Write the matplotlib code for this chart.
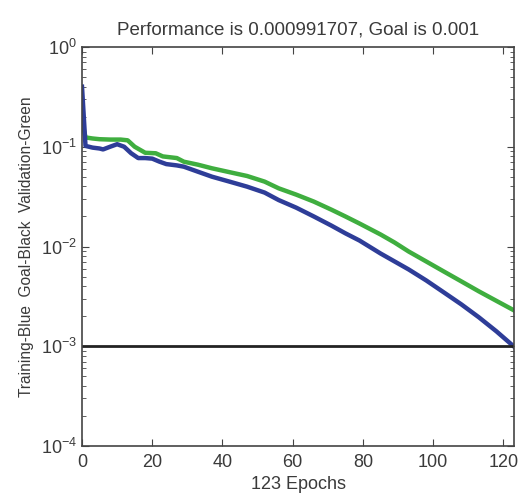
import numpy as np
import matplotlib.pyplot as plt
from matplotlib.ticker import LogLocator, NullFormatter

plt.rcParams['font.family'] = ['Liberation Sans', 'DejaVu Sans']
plt.rcParams['mathtext.default'] = 'regular'

# training performance (blue)
train_epochs = [0, 1, 3, 5, 6, 8, 10, 12, 14, 16, 18, 20, 22, 24, 27, 29, 33,
                37, 42, 47, 52, 56, 61, 66, 71, 75, 79, 85, 89, 93, 98, 103, 108,
                113, 118, 123]
train_perf = [0.40, 0.102, 0.098, 0.096, 0.094, 0.100, 0.106, 0.100, 0.086, 0.077,
              0.077, 0.076, 0.071, 0.067, 0.065, 0.0631, 0.0562, 0.0501, 0.0447,
              0.0398, 0.0347, 0.0292, 0.0245, 0.0200, 0.0162, 0.01355, 0.01148,
              0.00851, 0.00708, 0.00589, 0.00457, 0.00347, 0.00263, 0.00195,
              0.00141, 0.000991707]

# validation performance (green)
val_epochs = [0, 1, 3, 5, 8, 11, 13, 15, 18, 21, 23, 27, 29, 33, 37, 42, 47, 52,
              56, 61, 66, 71, 75, 79, 85, 89, 93, 98, 103, 108, 113, 118, 123]
val_perf = [0.18, 0.124, 0.121, 0.119, 0.118, 0.118, 0.116, 0.100, 0.087, 0.086,
            0.080, 0.077, 0.0708, 0.0661, 0.0608, 0.0556, 0.0509, 0.0447, 0.0383,
            0.0331, 0.0282, 0.0234, 0.0200, 0.0170, 0.0132, 0.01096, 0.00891,
            0.00708, 0.00562, 0.00447, 0.00355, 0.00285, 0.00229]

goal = 0.001
n_epochs = 123

fig = plt.figure(figsize=(5.18, 4.93), dpi=100)
ax = fig.add_axes([0.1583, 0.0953, 0.834, 0.8094])

ax.plot(val_epochs, val_perf, color='#3fae3f', lw=3.2)
ax.plot(train_epochs, train_perf, color='#2e3d98', lw=3.2)
ax.axhline(goal, color='#222222', lw=2)

ax.set_yscale('log')
ax.set_xlim(0, n_epochs)
ax.set_ylim(1e-4, 1)
ax.set_xticks(np.arange(0, 121, 20))
ax.yaxis.set_major_locator(LogLocator(base=10, numticks=10))
ax.yaxis.set_minor_locator(LogLocator(base=10, subs=np.arange(2, 10), numticks=10))
ax.yaxis.set_minor_formatter(NullFormatter())

ax.tick_params(which='both', direction='in', top=True, right=True,
               labelsize=13, labelcolor='#3a3a3a', color='#444444')
ax.tick_params(which='major', length=5)
ax.tick_params(which='minor', length=3)
ax.tick_params(axis='x', pad=6)
for s in ax.spines.values():
    s.set_color('#444444')
    s.set_linewidth(1.2)

ax.set_title('Performance is 0.000991707, Goal is 0.001', fontsize=13.5,
             color='#3a3a3a', pad=9)
ax.set_xlabel('123 Epochs', fontsize=13, color='#3a3a3a', labelpad=3)
ax.set_ylabel('Training-Blue  Goal-Black  Validation-Green', fontsize=11.2,
              color='#3a3a3a', labelpad=5)

fig.savefig('out.png', dpi=100)
